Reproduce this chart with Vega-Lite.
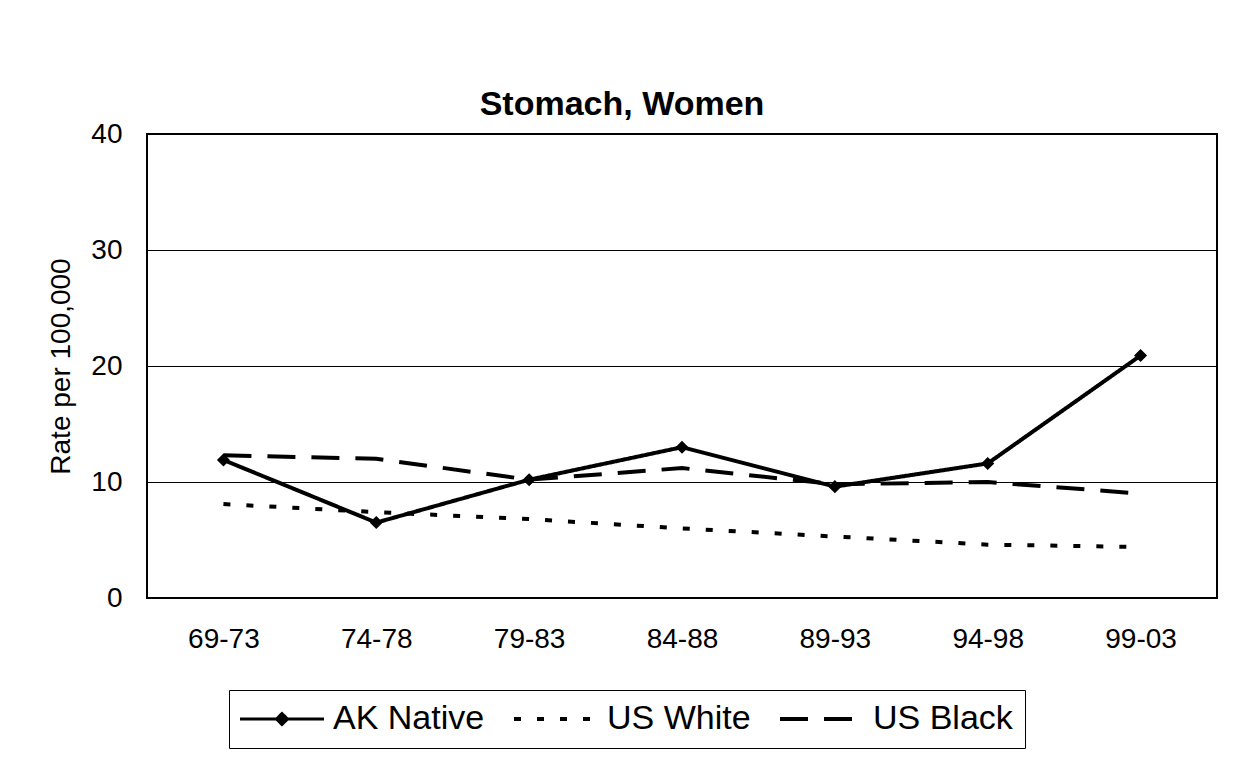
{
  "$schema": "https://vega.github.io/schema/vega-lite/v6.json",
  "width": 1070,
  "height": 464,
  "autosize": {"type": "none"},
  "padding": {"left": 147, "top": 134, "right": 18, "bottom": 159},
  "background": "white",
  "title": {
    "text": "Stomach, Women",
    "fontSize": 34,
    "fontWeight": "bold",
    "font": "Liberation Sans",
    "color": "black",
    "anchor": "middle",
    "frame": "group",
    "dx": -60,
    "dy": 49,
    "offset": 20,
    "baseline": "alphabetic"
  },
  "config": {
    "view": {"stroke": "black", "strokeWidth": 2},
    "font": "Liberation Sans"
  },
  "data": {
    "values": [
      {"period": "69-73", "series": "AK Native", "rate": 11.9},
      {"period": "74-78", "series": "AK Native", "rate": 6.5},
      {"period": "79-83", "series": "AK Native", "rate": 10.2},
      {"period": "84-88", "series": "AK Native", "rate": 13.0},
      {"period": "89-93", "series": "AK Native", "rate": 9.6},
      {"period": "94-98", "series": "AK Native", "rate": 11.6},
      {"period": "99-03", "series": "AK Native", "rate": 20.9},
      {"period": "69-73", "series": "US White", "rate": 8.1},
      {"period": "74-78", "series": "US White", "rate": 7.4},
      {"period": "79-83", "series": "US White", "rate": 6.8},
      {"period": "84-88", "series": "US White", "rate": 6.0},
      {"period": "89-93", "series": "US White", "rate": 5.3},
      {"period": "94-98", "series": "US White", "rate": 4.6},
      {"period": "99-03", "series": "US White", "rate": 4.4},
      {"period": "69-73", "series": "US Black", "rate": 12.3},
      {"period": "74-78", "series": "US Black", "rate": 12.0},
      {"period": "79-83", "series": "US Black", "rate": 10.2},
      {"period": "84-88", "series": "US Black", "rate": 11.2},
      {"period": "89-93", "series": "US Black", "rate": 9.8},
      {"period": "94-98", "series": "US Black", "rate": 10.0},
      {"period": "99-03", "series": "US Black", "rate": 9.0}
    ]
  },
  "encoding": {
    "x": {
      "field": "period",
      "type": "ordinal",
      "sort": null,
      "scale": {"type": "point", "padding": 0.5},
      "axis": {
        "title": null,
        "domain": false,
        "ticks": false,
        "grid": false,
        "labelAngle": 0,
        "labelFontSize": 28,
        "labelColor": "black",
        "labelPadding": 27
      }
    },
    "y": {
      "field": "rate",
      "type": "quantitative",
      "scale": {"domain": [0, 40], "nice": false},
      "axis": {
        "title": "Rate per 100,000",
        "titleFontSize": 28,
        "titleFontWeight": "normal",
        "titleColor": "black",
        "titlePadding": 15,
        "domain": false,
        "ticks": false,
        "values": [0, 10, 20, 30, 40],
        "labelFontSize": 28,
        "labelColor": "black",
        "labelPadding": 25,
        "grid": true,
        "gridColor": "black",
        "gridWidth": 1,
        "gridOpacity": 1
      }
    }
  },
  "layer": [
    {
      "mark": {"type": "line", "color": "black", "strokeWidth": 4},
      "encoding": {
        "strokeDash": {
          "field": "series",
          "type": "nominal",
          "sort": null,
          "scale": {
            "domain": ["AK Native", "US White", "US Black"],
            "range": [[1, 0], [7, 16], [28, 16]]
          },
          "legend": {
            "title": null,
            "orient": "none",
            "legendX": 82,
            "legendY": 556,
            "direction": "horizontal",
            "strokeColor": "black",
            "padding": 12,
            "labelFontSize": 34,
            "labelColor": "black",
            "labelOffset": 34,
            "labelLimit": 0,
            "columnPadding": 21,
            "symbolSize": 7056,
            "symbolOffset": 24,
            "symbolStrokeWidth": 4,
            "symbolStrokeColor": "black",
            "symbolType": "stroke",
            "encode": {
              "symbols": {
                "update": {
                  "shape": {"signal": "datum.value === 'AK Native' ? 'M-1,0H1M0,-0.13L0.13,0L0,0.13L-0.13,0Z' : 'stroke'"},
                  "fill": {"value": "black"},
                  "stroke": {"value": "black"},
                  "strokeWidth": {"signal": "datum.value === 'AK Native' ? 3 : 4"}
                }
              }
            }
          }
        }
      }
    },
    {
      "transform": [{"filter": "datum.series === 'AK Native'"}],
      "mark": {"type": "point", "shape": "diamond", "filled": true, "color": "black", "size": 170, "opacity": 1}
    }
  ]
}
